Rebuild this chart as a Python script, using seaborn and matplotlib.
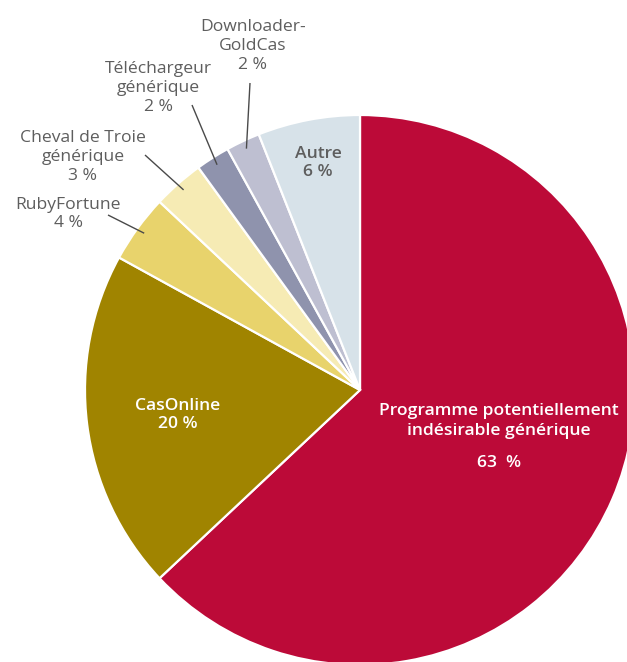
import matplotlib
matplotlib.use("Agg")
import matplotlib.pyplot as plt
import seaborn as sns
import numpy as np

categories = ["Programme potentiellement\nindésirable générique", "CasOnline", "RubyFortune",
              "Cheval de Troie\ngénérique", "Téléchargeur\ngénérique", "Downloader-\nGoldCas", "Autre"]
values = [63, 20, 4, 3, 2, 2, 6]
pct_labels = ["63  %", "20 %", "4 %", "3 %", "2 %", "2 %", "6 %"]
colors = ["#BC0A38", "#A08400", "#E8D36C", "#F6EBB4", "#8F93AD", "#BEBFD1", "#D7E2E9"]

sns.set_theme(style="white")
plt.rcParams['font.family'] = ['Open Sans', 'DejaVu Sans']

W, H = 627, 662
fig = plt.figure(figsize=(W / 100, H / 100), dpi=100)
ax = fig.add_axes([0, 0, 1, 1])
ax.set_xlim(0, W)
ax.set_ylim(0, H)
ax.set_axis_off()

cx, cy, R = 360, H - 390, 275
wedges, _ = ax.pie(values, colors=colors, startangle=90, counterclock=False,
                   center=(cx, cy), radius=R,
                   wedgeprops=dict(edgecolor="white", linewidth=1.6))
ax.set_xlim(0, W)
ax.set_ylim(0, H)
ax.set_aspect("equal")

def py(y):
    return H - y

grey = "#5E5E5E"
fs = 12.6
ls = 1.32

# inside labels
ax.text(499, py(421), categories[0], color="white", fontsize=fs, fontweight="semibold",
        ha="center", va="center", linespacing=ls)
ax.text(499, py(463), pct_labels[0], color="white", fontsize=fs, fontweight="semibold",
        ha="center", va="center")
ax.text(178, py(415), categories[1] + "\n" + pct_labels[1], color="white", fontsize=fs,
        fontweight="semibold", ha="center", va="center", linespacing=ls - 0.1)
ax.text(318, py(163), categories[6] + "\n" + pct_labels[6], color=grey, fontsize=fs,
        fontweight="semibold", ha="center", va="center", linespacing=ls - 0.1)

# outside labels: (index, text centre x, y, leader start x, y)
outside = [
    (2, 68, 214, 108, 215),
    (3, 83, 157, 145, 155),
    (4, 158, 88, 192, 105),
    (5, 253, 46, 250, 83),
]
for idx, tx, ty, sx, sy in outside:
    ax.text(tx, py(ty), categories[idx] + "\n" + pct_labels[idx], color=grey, fontsize=fs,
            ha="center", va="center", linespacing=ls - 0.1)
    w = wedges[idx]
    ang = np.deg2rad((w.theta1 + w.theta2) / 2)
    ex = cx + 0.97 * R * np.cos(ang)
    ey = cy + 0.97 * R * np.sin(ang)
    ax.plot([sx, ex], [py(sy), ey], color="#4A4A4A", linewidth=1.0, solid_capstyle="butt")

fig.savefig("out.png", dpi=100)
